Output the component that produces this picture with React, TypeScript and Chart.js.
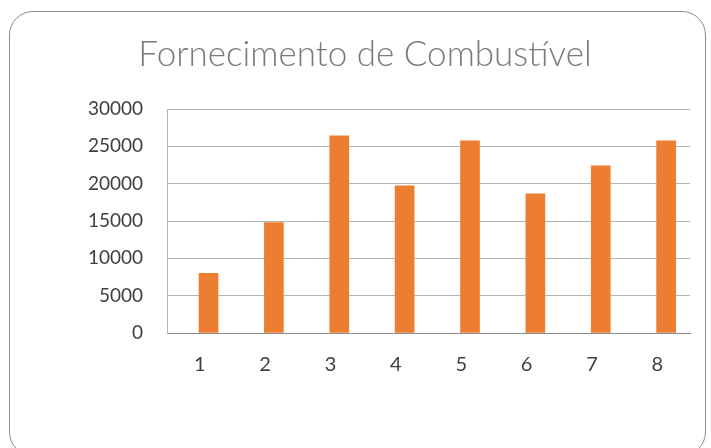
import React, { useEffect, useRef } from "react";
import { Chart, registerables } from "chart.js";

Chart.register(...registerables);

const title = "Fornecimento de Combustível";
const categories = ["1", "2", "3", "4", "5", "6", "7", "8"];
const values = [8000, 14800, 26400, 19700, 25750, 18650, 22400, 25750];
const yMin = 0;
const yMax = 30000;
const yStep = 5000;

export default function App() {
  const ref = useRef<HTMLCanvasElement | null>(null);

  useEffect(() => {
    if (!ref.current) return;
    const font = "Lato, 'Open Sans', sans-serif";
    const chart = new Chart(ref.current, {
      type: "bar",
      data: {
        labels: categories,
        datasets: [
          {
            label: title,
            data: categories.map((_, i) => ({ x: i + 1, y: values[i] })),
            backgroundColor: "#ED7D31",
            borderWidth: 0,
            barThickness: 19,
            xAxisID: "xb",
          },
        ],
      },
      options: {
        animation: false,
        responsive: false,
        layout: { padding: { left: 19, right: 0, top: 0, bottom: 0 } },
        plugins: {
          legend: { display: false },
          tooltip: { enabled: false },
          title: {
            display: true,
            text: title,
            color: "#7a7a7a",
            font: { family: font, size: 35, weight: "300", lineHeight: 1.2 },
            padding: { top: 34, bottom: 33 },
          },
        },
        scales: {
          x: {
            type: "category",
            offset: true,
            grid: { display: false, drawTicks: false },
            border: { display: true, color: "#8c8c8c", width: 1 },
            ticks: {
              color: "#404040",
              font: { family: font, size: 20 },
              padding: 20,
            },
            afterFit: (s: any) => {
              s.height = 115;
            },
          },
          xb: {
            type: "linear",
            display: false,
            offset: false,
            min: 0.365,
            max: 8.365,
          },
          y: {
            min: yMin,
            max: yMax,
            grid: { color: "#b4b4b4", lineWidth: 1, drawTicks: false },
            border: { display: true, color: "#b4b4b4", width: 1 },
            ticks: {
              stepSize: yStep,
              color: "#404040",
              font: { family: font, size: 19 },
              padding: 24,
              callback: (v: any) => String(v),
            },
            afterFit: (s: any) => {
              s.width = 148;
            },
          },
          yr: {
            position: "right",
            display: true,
            min: yMin,
            max: yMax,
            grid: { display: false, drawTicks: false },
            border: { display: false },
            ticks: { display: false },
            afterFit: (s: any) => {
              s.width = 21;
            },
          },
        },
      },
    });
    return () => chart.destroy();
  }, []);

  return (
    <div
      style={{
        position: "absolute",
        left: 0,
        top: 0,
        width: 711,
        height: 448,
        background: "#fff",
        overflow: "hidden",
      }}
    >
      <div
        style={{
          position: "absolute",
          left: 9,
          top: 11,
          width: 697,
          height: 445,
          border: "1px solid #8c8c8c",
          borderRadius: 24,
          boxSizing: "border-box",
        }}
      />
      <canvas
        ref={ref}
        width={711}
        height={448}
        style={{ position: "absolute", left: 0, top: 0, width: 711, height: 448 }}
      />
    </div>
  );
}
